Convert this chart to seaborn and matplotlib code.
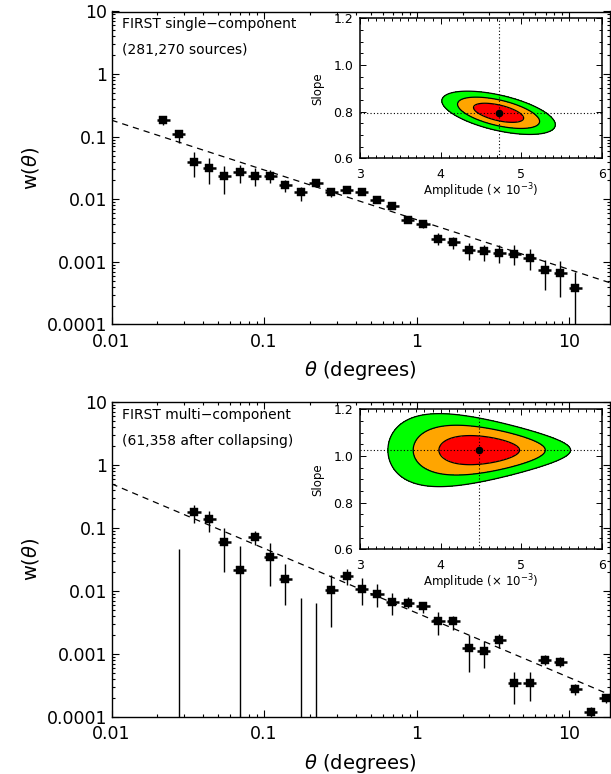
import numpy as np
import matplotlib
matplotlib.use("Agg")
import matplotlib.pyplot as plt
import seaborn as sns
from matplotlib.ticker import FixedLocator, FixedFormatter, LogLocator, NullFormatter, MultipleLocator, FormatStrFormatter

# ---------------- data ----------------
theta_single = [0.0219, 0.0275, 0.0347, 0.0437, 0.0550, 0.0692, 0.0871, 0.110, 0.138, 0.174,
                0.219, 0.275, 0.347, 0.437, 0.550, 0.692, 0.871, 1.10, 1.38, 1.74,
                2.19, 2.75, 3.47, 4.37, 5.50, 6.92, 8.71, 10.96]
w_single = [0.184, 0.109, 0.0394, 0.0316, 0.0236, 0.0276, 0.0236, 0.0236, 0.0169, 0.0131,
            0.0184, 0.0131, 0.0141, 0.0129, 0.0099, 0.0077, 0.0047, 0.0040, 0.00234, 0.00209,
            0.00154, 0.00149, 0.00139, 0.00134, 0.00114, 0.00074, 0.00066, 0.00038]
w_single_hi = [0.214, 0.128, 0.058, 0.045, 0.034, 0.0353, 0.032, 0.0293, 0.0203, 0.0155,
               0.0208, 0.0149, 0.0155, 0.0142, 0.0110, 0.0085, 0.0052, 0.0045, 0.00287, 0.0025,
               0.00197, 0.00189, 0.00185, 0.00189, 0.00158, 0.00109, 0.00104, 0.00068]
w_single_lo = [0.154, 0.080, 0.0224, 0.0175, 0.0122, 0.0184, 0.0163, 0.0184, 0.0132, 0.0095,
               0.0159, 0.0110, 0.0128, 0.0117, 0.0089, 0.0070, 0.0042, 0.0035, 0.00185, 0.00158,
               0.00109, 0.00102, 0.00096, 0.00088, 0.00073, 0.00035, 0.00028, 0.0]

theta_multi = [0.0275, 0.0347, 0.0437, 0.0550, 0.0692, 0.0871, 0.110, 0.138, 0.174, 0.219,
               0.275, 0.347, 0.437, 0.550, 0.692, 0.871, 1.10, 1.38, 1.74, 2.19,
               2.75, 3.47, 4.37, 5.50, 6.92, 8.71, 10.96, 13.8, 17.4]
w_multi = [np.nan, 0.18, 0.139, 0.059, 0.0216, 0.073, 0.035, 0.0155, np.nan, np.nan,
           0.0104, 0.0173, 0.0109, 0.0091, 0.0067, 0.0065, 0.0058, 0.0033, 0.0033, 0.00126,
           0.00111, 0.00167, 0.00035, 0.00035, 0.0008, 0.00075, 0.00028, 0.00012, 0.0002]
w_multi_hi = [0.047, 0.232, 0.188, 0.099, 0.052, 0.091, 0.058, 0.027, 0.0078, 0.0065,
              0.018, 0.022, 0.0158, 0.0128, 0.0094, 0.008, 0.0068, 0.0047, 0.0040, 0.0020,
              0.0016, 0.0021, 0.00052, 0.00052, 0.00095, 0.00091, 0.00033, 0.000145, 0.00023]
w_multi_lo = [0.0, 0.121, 0.087, 0.020, 0.0, 0.054, 0.012, 0.006, 0.0, 0.0,
              0.0027, 0.0124, 0.0061, 0.0055, 0.0041, 0.0053, 0.0044, 0.0020, 0.0024, 0.00052,
              0.0006, 0.00126, 0.00016, 0.00018, 0.00068, 0.00062, 0.00022, 0.0, 0.000165]

# best fits (amplitude x 1e-3, slope) and confidence-region shape
fit_single = dict(amp=4.72, slope=0.795, sig_amp=0.205, sig_slope=0.027, rho=-0.55)
fit_multi = dict(amp=4.48, slope=1.025, sig_amp=0.33, sig_slope=0.040, skew=0.157)
dchi2_levels = [2.30, 6.17, 11.8]

labels_single = ["FIRST single\u2212component", "(281,270 sources)"]
labels_multi = ["FIRST multi\u2212component", "(61,358 after collapsing)"]

xticks = [0.01, 0.1, 1, 10]
xtick_labels = ["0.01", "0.1", "1", "10"]
yticks = [1e-4, 1e-3, 1e-2, 1e-1, 1, 10]
ytick_labels = ["0.0001", "0.001", "0.01", "0.1", "1", "10"]

# ---------------- style ----------------
sns.set_style("ticks", {"xtick.direction": "in", "ytick.direction": "in"})
plt.rcParams["font.family"] = ["DejaVu Sans"]
plt.rcParams["mathtext.fontset"] = "dejavusans"
for key in ["text.color", "axes.labelcolor", "xtick.color", "ytick.color",
            "xtick.labelcolor", "ytick.labelcolor", "axes.edgecolor"]:
    plt.rcParams[key] = "black"

BIN_HALF_DEX = 0.043
XLIM = (0.01, 18.5)
YLIM = (1e-4, 10)

fig = plt.figure(figsize=(6.11, 7.74), dpi=100)
W, H = 611.0, 774.0


def axrect(l, t, r, b):
    return [l / W, 1 - b / H, (r - l) / W, (b - t) / H]


ax_top = fig.add_axes(axrect(111.5, 11.5, 610.0, 324.5))
ax_bot = fig.add_axes(axrect(111.5, 402.0, 610.0, 717.0))
in_top = fig.add_axes(axrect(360.0, 18.3, 601.7, 158.3))
in_bot = fig.add_axes(axrect(360.0, 409.3, 601.7, 549.3))


def main_panel(ax, theta, w, hi, lo, fit, labels):
    theta = np.asarray(theta, float)
    w = np.asarray(w, float)
    hi = np.asarray(hi, float)
    lo = np.maximum(np.asarray(lo, float), 1e-8)
    ax.set_xscale("log")
    ax.set_yscale("log")
    ax.set_xlim(*XLIM)
    ax.set_ylim(*YLIM)

    # model power law from the best-fit inset values
    th = np.logspace(np.log10(XLIM[0]), np.log10(XLIM[1]), 60)
    sns.lineplot(x=th, y=fit["amp"] * 1e-3 * th ** (-fit["slope"]), ax=ax,
                 color="k", lw=0.9, linestyle=(0, (5, 4)), zorder=2)

    m = ~np.isnan(w)
    xlo = theta * (1 - 10 ** (-BIN_HALF_DEX))
    xhi = theta * (10 ** BIN_HALF_DEX - 1)
    ax.errorbar(theta[m], w[m], yerr=[w[m] - lo[m], hi[m] - w[m]], fmt="none",
                ecolor="k", elinewidth=1.0, capsize=0, zorder=3)
    ax.errorbar(theta[m], w[m], xerr=[xlo[m], xhi[m]], fmt="none",
                ecolor="k", elinewidth=1.8, capsize=0, zorder=3)
    if (~m).any():
        ax.vlines(theta[~m], 1e-8, hi[~m], color="k", lw=1.0, zorder=3)
    sns.scatterplot(x=theta[m], y=w[m], ax=ax, marker="s", s=30, color="k",
                    edgecolor="k", linewidth=0.3, zorder=4)

    ax.xaxis.set_major_locator(FixedLocator(xticks))
    ax.xaxis.set_major_formatter(FixedFormatter(xtick_labels))
    ax.yaxis.set_major_locator(FixedLocator(yticks))
    ax.yaxis.set_major_formatter(FixedFormatter(ytick_labels))
    ax.xaxis.set_minor_locator(LogLocator(base=10, subs=np.arange(2, 10), numticks=30))
    ax.yaxis.set_minor_locator(LogLocator(base=10, subs=np.arange(2, 10), numticks=30))
    ax.xaxis.set_minor_formatter(NullFormatter())
    ax.yaxis.set_minor_formatter(NullFormatter())
    ax.tick_params(which="both", direction="in", top=True, right=True, width=0.8, color="k")
    ax.tick_params(which="major", length=5)
    ax.tick_params(which="minor", length=2.5)
    ax.tick_params(axis="x", labelsize=12.5, pad=6)
    ax.tick_params(axis="y", labelsize=12.5, pad=3)
    for sp in ax.spines.values():
        sp.set_linewidth(1.0)
        sp.set_color("k")

    ax.set_xlabel(r"$\theta$ (degrees)", fontsize=14)
    ax.xaxis.set_label_coords(0.5, -0.148)
    ax.xaxis.label.set_va("center")
    ax.set_ylabel(r"w($\theta$)", fontsize=14)
    ax.yaxis.set_label_coords(-0.163, 0.5)
    ax.yaxis.label.set_va("center")

    ax.text(0.021, 0.959, labels[0], transform=ax.transAxes, fontsize=10, va="center", ha="left")
    ax.text(0.021, 0.876, labels[1], transform=ax.transAxes, fontsize=10, va="center", ha="left")


def inset_panel(ax, fit, kind):
    amp = np.linspace(3, 6, 500)
    slope = np.linspace(0.6, 1.2, 500)
    AA, SS = np.meshgrid(amp, slope)
    u = (AA - fit["amp"]) / fit["sig_amp"]
    v = (SS - fit["slope"]) / fit["sig_slope"]
    if kind == "ellipse":
        r = fit["rho"]
        Z = (u ** 2 - 2 * r * u * v + v ** 2) / (1 - r ** 2)
    else:
        Z = u ** 2 + (v * np.exp(fit["skew"] * u)) ** 2
    ax.contourf(AA, SS, Z, levels=[0] + dchi2_levels,
                colors=["#ff0000", "#ffa500", "#00ff00"], zorder=1)
    ax.contour(AA, SS, Z, levels=dchi2_levels, colors="k", linewidths=0.9, zorder=2)
    ax.axvline(fit["amp"], color="k", ls=(0, (1, 2)), lw=0.8, zorder=3)
    ax.axhline(fit["slope"], color="k", ls=(0, (1, 2)), lw=0.8, zorder=3)
    ax.plot([fit["amp"]], [fit["slope"]], "o", color="k", ms=4.5, zorder=4)
    ax.set_xlim(3, 6)
    ax.set_ylim(0.6, 1.2)
    ax.set_facecolor("white")
    ax.xaxis.set_major_locator(MultipleLocator(1))
    ax.xaxis.set_minor_locator(MultipleLocator(0.1))
    ax.yaxis.set_major_locator(MultipleLocator(0.2))
    ax.yaxis.set_minor_locator(MultipleLocator(0.05))
    ax.xaxis.set_major_formatter(FormatStrFormatter("%d"))
    ax.yaxis.set_major_formatter(FormatStrFormatter("%.1f"))
    ax.tick_params(which="both", direction="in", top=True, right=True, width=0.7, color="k")
    ax.tick_params(which="major", length=4.5)
    ax.tick_params(which="minor", length=2.2)
    ax.tick_params(axis="x", labelsize=9, pad=7)
    ax.tick_params(axis="y", labelsize=9, pad=5)
    for sp in ax.spines.values():
        sp.set_linewidth(1.1)
        sp.set_color("k")
    ax.set_xlabel("Amplitude (\u00d7 10$^{-3}$)", fontsize=8.5)
    ax.xaxis.set_label_coords(0.5, -0.232)
    ax.xaxis.label.set_va("center")
    ax.set_ylabel("Slope", fontsize=8.5)
    ax.yaxis.set_label_coords(-0.174, 0.5)
    ax.yaxis.label.set_va("center")


main_panel(ax_top, theta_single, w_single, w_single_hi, w_single_lo, fit_single, labels_single)
main_panel(ax_bot, theta_multi, w_multi, w_multi_hi, w_multi_lo, fit_multi, labels_multi)
inset_panel(in_top, fit_single, "ellipse")
inset_panel(in_bot, fit_multi, "egg")

fig.savefig("out.png", dpi=100)
